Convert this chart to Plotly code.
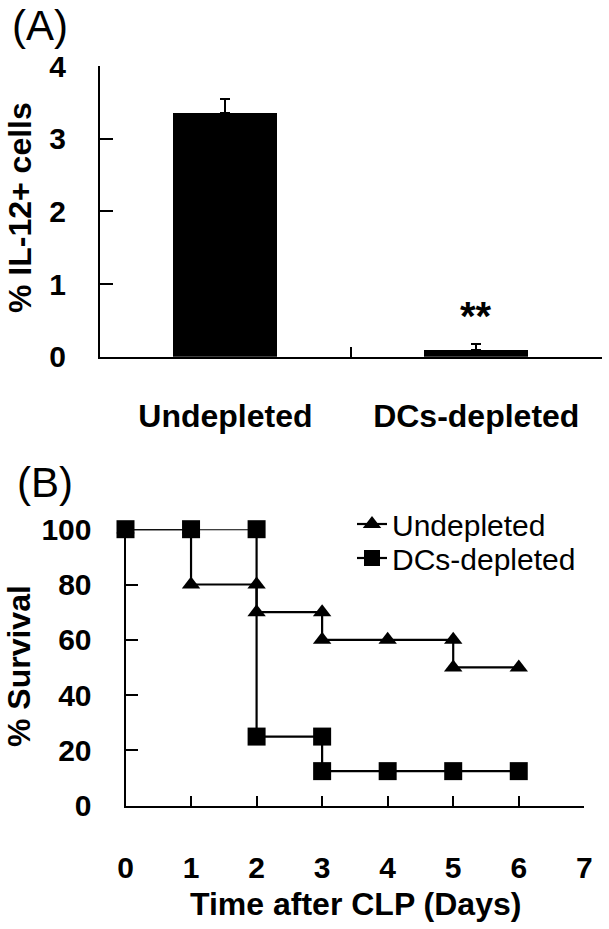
import plotly.graph_objects as go

# ---- data ----
groups = ["Undepleted", "DCs-depleted"]
il12_mean = [3.36, 0.09]
il12_sem = [0.19, 0.08]

undep_days = [0, 1, 1, 2, 2, 3, 3, 4, 5, 5, 6]
undep_surv = [100, 100, 80, 80, 70, 70, 60, 60, 60, 50, 50]
dcs_days = [0, 1, 2, 2, 3, 3, 4, 5, 6]
dcs_surv = [100, 100, 100, 25, 25, 12.5, 12.5, 12.5, 12.5]

W, H = 609, 929
FONT = "Liberation Sans, Arial, sans-serif"


def px(x):
    return x / W


def py(y):
    return 1 - y / H


fig = go.Figure()

fig.add_trace(go.Bar(
    x=groups, y=il12_mean, width=0.415,
    marker=dict(color="black", line=dict(width=0)),
    error_y=dict(type="data", array=il12_sem, arrayminus=[0, 0], symmetric=False,
                 color="black", thickness=2, width=5),
    xaxis="x", yaxis="y", showlegend=False,
))

fig.add_trace(go.Scatter(
    x=undep_days, y=undep_surv, mode="lines+markers", name="Undepleted",
    line=dict(color="black", width=2.2),
    marker=dict(symbol="triangle-up", size=16, color="black"),
    xaxis="x2", yaxis="y2", cliponaxis=False, legend="legend",
))
fig.add_trace(go.Scatter(
    x=dcs_days, y=dcs_surv, mode="lines+markers", name="DCs-depleted",
    line=dict(color="black", width=2.2),
    marker=dict(symbol="square", size=18, color="black"),
    xaxis="x2", yaxis="y2", cliponaxis=False, legend="legend2",
))

axis_common = dict(showline=True, linecolor="black", linewidth=2, ticks="inside",
                   tickcolor="black", tickwidth=2, showgrid=False, zeroline=False,
                   automargin=False,
                   tickfont=dict(family=FONT, size=30, color="black", weight="bold"))

legend_common = dict(xanchor="left", yanchor="middle",
                     font=dict(family=FONT, size=30, color="black"),
                     bgcolor="rgba(0,0,0,0)", borderwidth=0)

fig.update_layout(
    width=W, height=H,
    margin=dict(l=0, r=0, t=0, b=0),
    paper_bgcolor="white", plot_bgcolor="white",
    font=dict(family=FONT, color="black"),
    bargap=0,
    xaxis=dict(domain=[px(100), px(601.7)], type="category", range=[-0.5, 1.5],
               tickson="boundaries", ticklen=10, ticklabelstandoff=30, anchor="y",
               **{k: v for k, v in axis_common.items() if k != "tickfont"},
               tickfont=dict(family=FONT, size=32, color="black", weight="bold")),
    yaxis=dict(domain=[py(356.7), py(66)], range=[0, 4], tickvals=[0, 1, 2, 3, 4],
               ticklen=13, ticklabelstandoff=26, anchor="x", **axis_common),
    xaxis2=dict(domain=[px(125.5), px(584.3)], range=[0, 7], tickvals=list(range(8)),
                ticklen=10, ticklabelstandoff=34, anchor="y2", **axis_common),
    yaxis2=dict(domain=[py(805.7), py(529.2)], range=[0, 100],
                tickvals=[0, 20, 40, 60, 80, 100], ticklen=12, ticklabelstandoff=26,
                anchor="x2", **axis_common),
    legend=dict(x=px(352), y=py(524), **legend_common),
    legend2=dict(x=px(352), y=py(558), **legend_common),
)

ann = [
    dict(text="(A)", x=px(40), y=py(25), font=dict(size=42)),
    dict(text="(B)", x=px(45), y=py(482), font=dict(size=42)),
    dict(text="% IL-12+ cells", x=px(20), y=py(208), textangle=-90,
         font=dict(size=32, weight="bold")),
    dict(text="% Survival", x=px(19), y=py(666), textangle=-90,
         font=dict(size=32, weight="bold")),
    dict(text="Time after CLP (Days)", x=px(356), y=py(904),
         font=dict(size=32, weight="bold")),
]
for a in ann:
    fig.add_annotation(xref="paper", yref="paper", showarrow=False,
                       xanchor="center", yanchor="middle", **a)

fig.add_annotation(text="**", x=groups[1], y=0.56, xref="x", yref="y", showarrow=False,
                   font=dict(size=40, weight="bold", family=FONT), yanchor="middle")

fig.write_html("out.html", config={"displayModeBar": False},
               post_script="document.body.style.margin='0';")
